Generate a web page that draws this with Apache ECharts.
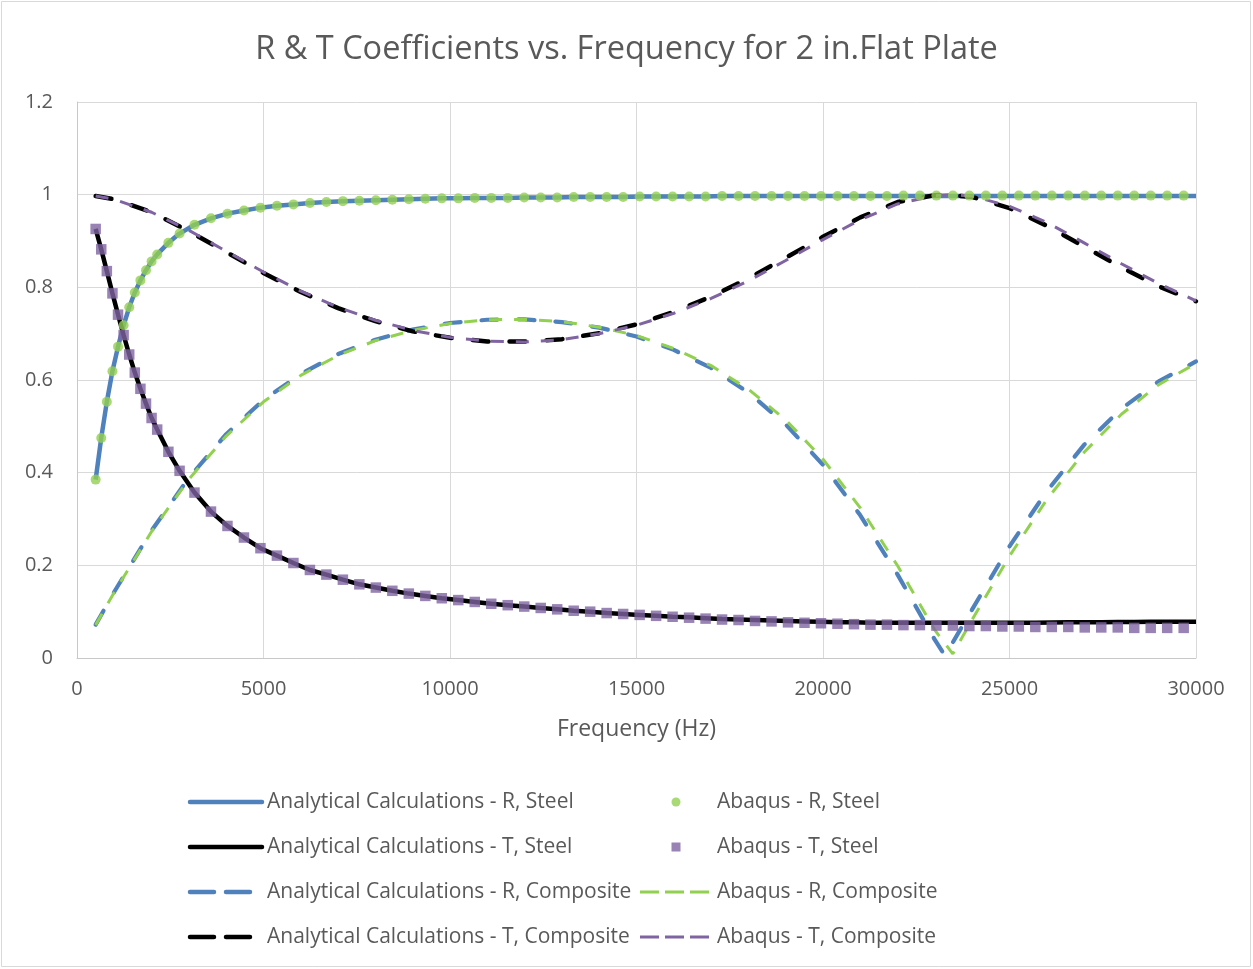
<!DOCTYPE html>
<html>
<head>
<meta charset="utf-8">
<script src="https://cdn.jsdelivr.net/npm/echarts@6/dist/echarts.min.js"></script>
<style>
html,body{margin:0;padding:0;background:#fff;}
#chart{width:1253px;height:969px;}
</style>
</head>
<body>
<div id="chart"></div>
<script>
// ---------------- data ----------------
const xTicks = [0, 5000, 10000, 15000, 20000, 25000, 30000];
const yTicks = [0, 0.2, 0.4, 0.6, 0.8, 1, 1.2];

// Abaqus sampling frequencies (Hz)
const freqAbaqus = [500,650,800,950,1100,1250,1400,1550,1700,1850,2000,2150,2450,2750,3150,
  3592,4034,4476,4918,5360,5802,6244,6686,7128,7570,
  8012,8454,8896,9338,9780,10222,10664,11106,11548,11990,
  12432,12874,13316,13758,14200,14642,15084,15526,15968,16410,
  16852,17294,17736,18178,18620,19062,19504,19946,20388,20830,
  21272,21714,22156,22598,23040,23482,23924,24366,24808,25250,
  25692,26134,26576,27018,27460,27902,28344,28786,29228,29670];

const abaqusRSteel = [0.385,0.475,0.553,0.619,0.672,0.718,0.757,0.789,0.815,0.837,0.856,0.871,0.896,0.916,0.935,
  0.949,0.959,0.966,0.972,0.976,0.979,0.982,0.984,0.986,0.987,
  0.988,0.989,0.990,0.991,0.992,0.992,0.993,0.993,0.993,0.994,
  0.994,0.994,0.995,0.995,0.995,0.995,0.996,0.996,0.996,0.996,
  0.996,0.997,0.997,0.997,0.997,0.997,0.997,0.997,0.997,0.997,
  0.997,0.997,0.998,0.998,0.998,0.998,0.998,0.998,0.998,0.998,
  0.998,0.998,0.998,0.998,0.998,0.998,0.998,0.998,0.998,0.998];

const abaqusTSteel = [0.926,0.882,0.835,0.787,0.741,0.697,0.655,0.616,0.581,0.549,0.518,0.493,0.445,0.404,0.357,
  0.316,0.285,0.260,0.237,0.221,0.205,0.190,0.180,0.169,0.159,
  0.152,0.145,0.139,0.134,0.129,0.125,0.121,0.117,0.114,0.111,
  0.108,0.105,0.102,0.100,0.097,0.095,0.093,0.091,0.089,0.087,
  0.085,0.083,0.082,0.080,0.079,0.077,0.076,0.075,0.074,0.073,
  0.072,0.072,0.071,0.071,0.070,0.070,0.069,0.069,0.068,0.068,
  0.067,0.067,0.067,0.066,0.066,0.066,0.065,0.065,0.065,0.065];

// Analytical steel curves
const freqAnalyticSteel = [500,650,800,950,1100,1250,1400,1550,1700,1850,2000,2150,2450,2750,3150,
  3592,4034,4476,4918,5360,5802,6244,6686,7128,7570,
  8012,8454,8896,9338,9780,10222,10664,11106,11548,11990,
  12432,12874,13316,13758,14200,14642,15084,15526,15968,16410,
  16852,17294,17736,18178,18620,19062,19504,19946,20388,20830,
  21272,21714,22156,22598,23040,23482,23924,24366,24808,25250,
  25692,26134,26576,27018,27460,27902,28344,28786,29228,29670,30000];

const analyticRSteel = [0.385,0.475,0.553,0.619,0.672,0.718,0.757,0.789,0.815,0.837,0.856,0.871,0.896,0.916,0.935,
  0.949,0.959,0.966,0.972,0.976,0.979,0.982,0.984,0.986,0.987,
  0.988,0.989,0.990,0.991,0.992,0.992,0.993,0.993,0.993,0.994,
  0.994,0.994,0.995,0.995,0.995,0.995,0.996,0.996,0.996,0.996,
  0.996,0.997,0.997,0.997,0.997,0.997,0.997,0.997,0.997,0.997,
  0.997,0.997,0.997,0.997,0.997,0.997,0.997,0.997,0.997,0.997,
  0.997,0.997,0.997,0.997,0.997,0.997,0.997,0.997,0.997,0.997,0.997];

const analyticTSteel = [0.926,0.882,0.835,0.787,0.741,0.697,0.655,0.616,0.581,0.549,0.518,0.493,0.445,0.404,0.357,
  0.316,0.285,0.260,0.237,0.221,0.205,0.190,0.180,0.169,0.159,
  0.152,0.145,0.139,0.134,0.129,0.125,0.121,0.117,0.114,0.111,
  0.108,0.105,0.102,0.100,0.097,0.095,0.093,0.091,0.089,0.088,
  0.086,0.084,0.083,0.082,0.081,0.080,0.079,0.078,0.077,0.077,
  0.076,0.076,0.076,0.076,0.076,0.076,0.076,0.076,0.076,0.076,
  0.076,0.0765,0.077,0.077,0.077,0.0775,0.0775,0.078,0.078,0.078,0.078];

// Composite curves
const freqAnalyticComp = [500,1000,2000,3000,4000,5000,6000,7000,8000,9000,10000,11000,12000,13000,14000,15000,
  16000,17000,18000,19000,20000,21000,22000,23000,23270,24000,25000,26000,27000,28000,29000,30000];
const analyticRComp = [0.072,0.143,0.275,0.389,0.483,0.557,0.613,0.656,0.687,0.709,0.723,0.730,0.731,0.725,0.713,0.694,
  0.665,0.626,0.573,0.504,0.417,0.308,0.180,0.039,0.005,0.105,0.241,0.360,0.460,0.538,0.597,0.640];
const analyticTComp = [0.997,0.990,0.962,0.921,0.876,0.831,0.790,0.755,0.727,0.705,0.691,0.683,0.683,0.688,0.701,0.720,
  0.747,0.780,0.819,0.864,0.909,0.951,0.984,0.999,1.000,0.995,0.971,0.933,0.888,0.843,0.802,0.770];

const freqAbaqusComp = [500,1000,2000,3000,4000,5000,6000,7000,8000,9000,10000,11000,12000,13000,14000,15000,
  16000,17000,18000,19000,20000,21000,22000,23000,23480,24000,25000,26000,27000,28000,29000,30000];
const abaqusRComp = [0.071,0.142,0.273,0.386,0.479,0.553,0.610,0.653,0.685,0.707,0.722,0.730,0.731,0.726,0.714,0.696,
  0.668,0.631,0.580,0.514,0.429,0.324,0.199,0.060,0.009,0.083,0.220,0.342,0.444,0.526,0.590,0.636];
const abaqusTComp = [0.997,0.990,0.962,0.923,0.878,0.833,0.792,0.757,0.729,0.707,0.692,0.684,0.682,0.687,0.700,0.718,
  0.744,0.776,0.814,0.858,0.903,0.946,0.980,0.998,1.000,0.997,0.975,0.940,0.896,0.851,0.808,0.771];

const seriesNames = {
  aRS: 'Analytical Calculations - R, Steel',
  aTS: 'Analytical Calculations - T, Steel',
  aRC: 'Analytical Calculations - R, Composite',
  aTC: 'Analytical Calculations - T, Composite',
  bRS: 'Abaqus - R, Steel',
  bTS: 'Abaqus - T, Steel',
  bRC: 'Abaqus - R, Composite',
  bTC: 'Abaqus - T, Composite'
};
const titleText = 'R & T Coefficients vs. Frequency for 2 in.Flat Plate';
const xAxisName = 'Frequency (Hz)';

// ---------------- chart ----------------
const FONT = '"Open Sans", "Liberation Sans", sans-serif';
const TXT = '#595959';
const BLUE = '#4F81BD', GREEN = '#92D050', PURPLE = '#8064A2', BLACK = '#000000';
const zip = (xs, ys) => xs.map((x, i) => [x, ys[i]]);

const ANA_DASH = [16, 21];
const ABQ_DASH = [13, 12];

const series = [
  { name: seriesNames.aRS, type: 'line', data: zip(freqAnalyticSteel, analyticRSteel), symbol: 'none',
    lineStyle: { color: BLUE, width: 4.5 }, itemStyle: { color: BLUE }, z: 2 },
  { name: seriesNames.aTS, type: 'line', data: zip(freqAnalyticSteel, analyticTSteel), symbol: 'none',
    lineStyle: { color: BLACK, width: 4.5 }, itemStyle: { color: BLACK }, z: 2 },
  { name: seriesNames.aRC, type: 'line', data: zip(freqAnalyticComp, analyticRComp), symbol: 'none',
    lineStyle: { color: BLUE, width: 4.2, type: ANA_DASH, cap: 'round' }, itemStyle: { color: BLUE }, z: 2 },
  { name: seriesNames.aTC, type: 'line', data: zip(freqAnalyticComp, analyticTComp), symbol: 'none',
    lineStyle: { color: BLACK, width: 4.5, type: ANA_DASH, cap: 'round' }, itemStyle: { color: BLACK }, z: 2 },
  { name: seriesNames.bRS, type: 'scatter', data: zip(freqAbaqus, abaqusRSteel), symbol: 'circle', symbolSize: 10,
    itemStyle: { color: GREEN }, z: 3 },
  { name: seriesNames.bTS, type: 'scatter', data: zip(freqAbaqus, abaqusTSteel), symbol: 'rect', symbolSize: 10.5,
    itemStyle: { color: PURPLE }, z: 3 },
  { name: seriesNames.bRC, type: 'line', data: zip(freqAbaqusComp, abaqusRComp), symbol: 'none',
    lineStyle: { color: GREEN, width: 3, type: ABQ_DASH }, itemStyle: { color: GREEN }, z: 3 },
  { name: seriesNames.bTC, type: 'line', data: zip(freqAbaqusComp, abaqusTComp), symbol: 'none',
    lineStyle: { color: PURPLE, width: 3, type: ABQ_DASH }, itemStyle: { color: PURPLE }, z: 3 }
];
series.forEach(s => { s.silent = true; s.emphasis = { disabled: true }; s.animation = false; });

// legend layout: two columns, four rows
const rowCenters = [800, 845, 890, 935];
const ICON_W = 72;
const SQUARE_ICON = 'path://M0,0L10,0L10,10L0,10Z';
const legendDefs = [
  { name: seriesNames.aRS, col: 190, row: 0, line: { width: 4.5, type: 'solid', cap: 'round' } },
  { name: seriesNames.aTS, col: 190, row: 1, line: { width: 4.5, type: 'solid', cap: 'round' } },
  { name: seriesNames.aRC, col: 190, row: 2, line: { width: 4.5, type: [24, 12], cap: 'round' } },
  { name: seriesNames.aTC, col: 190, row: 3, line: { width: 4.5, type: [24, 12], cap: 'round' } },
  { name: seriesNames.bRS, col: 640, row: 0, icon: 'circle', size: 9 },
  { name: seriesNames.bTS, col: 640, row: 1, icon: SQUARE_ICON, size: 9 },
  { name: seriesNames.bRC, col: 640, row: 2, line: { width: 3, type: [19, 6], cap: 'butt' } },
  { name: seriesNames.bTC, col: 640, row: 3, line: { width: 3, type: [19, 6], cap: 'butt' } }
];
const legends = legendDefs.map(d => {
  const l = {
    left: d.col, top: rowCenters[d.row] - 10, orient: 'horizontal',
    itemWidth: ICON_W, itemHeight: 14, itemGap: 0, padding: 0, selectedMode: false,
    symbolKeepAspect: true,
    textStyle: { fontFamily: FONT, fontSize: 21, color: TXT, lineHeight: 24 }
  };
  if (d.icon) {
    l.data = [{ name: d.name, icon: d.icon }];
    l.itemHeight = d.size;
    l.left = d.col + (ICON_W - d.size) / 2;   // bounding box starts at the centred symbol
  } else {
    l.data = [d.name];
    l.lineStyle = d.line;
    l.itemStyle = { opacity: 0 };
    l.left = d.col - d.line.width / 2;
  }
  return l;
});

const option = {
  animation: false,
  backgroundColor: '#ffffff',
  title: {
    text: titleText, left: 'center', top: 25,
    textStyle: { fontFamily: FONT, fontSize: 32.5, fontWeight: 'normal', color: TXT, lineHeight: 40 }
  },
  grid: { left: 77, right: 57, top: 102, bottom: 311, containLabel: false },
  xAxis: {
    type: 'value', min: xTicks[0], max: xTicks[xTicks.length - 1], interval: 5000,
    name: xAxisName, nameLocation: 'middle', nameGap: 60,
    nameTextStyle: { fontFamily: FONT, fontSize: 23, color: TXT },
    axisLine: { show: true, lineStyle: { color: '#C8C8C8', width: 1 } },
    axisTick: { show: false },
    axisLabel: { fontFamily: FONT, fontSize: 20, color: TXT, margin: 21, formatter: v => String(v) },
    splitLine: { show: true, lineStyle: { color: '#D9D9D9', width: 1 } }
  },
  yAxis: {
    type: 'value', min: yTicks[0], max: yTicks[yTicks.length - 1], interval: 0.2,
    axisLine: { show: true, lineStyle: { color: '#C8C8C8', width: 1 } },
    axisTick: { show: false },
    axisLabel: { fontFamily: FONT, fontSize: 20, color: TXT, margin: 24, formatter: v => String(+v.toFixed(1)) },
    splitLine: { show: true, lineStyle: { color: '#D9D9D9', width: 1 } }
  },
  legend: legends,
  graphic: [{
    type: 'rect', silent: true, z: -1,
    shape: { x: 1.5, y: 1.5, width: 1249, height: 965 },
    style: { fill: null, stroke: '#D9D9D9', lineWidth: 1 }
  }],
  series: series
};

const chart = echarts.init(document.getElementById('chart'), null, { renderer: 'canvas' });
chart.setOption(option);
</script>
</body>
</html>
